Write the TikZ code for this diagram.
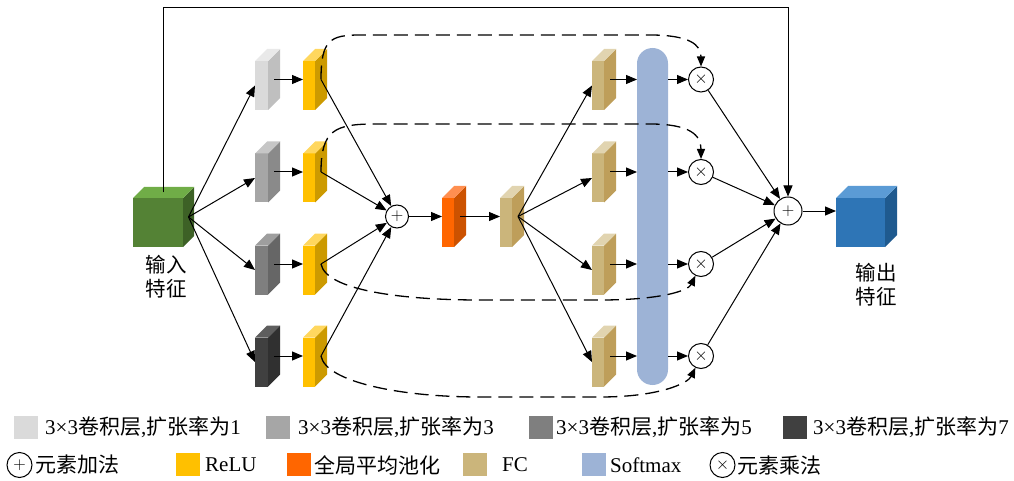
\documentclass[tikz,border=0pt]{standalone}
\usepackage{fontspec}
\setmainfont{Liberation Serif}
\newfontfamily\cjk{Noto Sans CJK SC}
\usetikzlibrary{arrows.meta,calc}

\newcommand{\zh}[1]{{\cjk #1}}

\definecolor{grnF}{HTML}{548235}
\definecolor{grnS}{HTML}{3D6126}
\definecolor{grnT}{HTML}{70AD47}
\definecolor{bluF}{HTML}{2E75B6}
\definecolor{bluS}{HTML}{1F5A8F}
\definecolor{bluT}{HTML}{5B9BD5}
\definecolor{gaF}{HTML}{DADADA}
\definecolor{gaS}{HTML}{BFBFBF}
\definecolor{gaT}{HTML}{E9E9E9}
\definecolor{gbF}{HTML}{A6A6A6}
\definecolor{gbS}{HTML}{8A8A8A}
\definecolor{gbT}{HTML}{C6C6C6}
\definecolor{gcF}{HTML}{7F7F7F}
\definecolor{gcS}{HTML}{666666}
\definecolor{gcT}{HTML}{9E9E9E}
\definecolor{gdF}{HTML}{404040}
\definecolor{gdS}{HTML}{303030}
\definecolor{gdT}{HTML}{5E5E5E}
\definecolor{yelF}{HTML}{FFC000}
\definecolor{yelS}{HTML}{CC9A00}
\definecolor{yelT}{HTML}{FFD75E}
\definecolor{orgF}{HTML}{FF6600}
\definecolor{orgS}{HTML}{CC5200}
\definecolor{orgT}{HTML}{FF8F50}
\definecolor{fcF}{HTML}{CBB57B}
\definecolor{fcS}{HTML}{BE9E5A}
\definecolor{fcT}{HTML}{E1D4B0}
\definecolor{smx}{HTML}{9DB3D6}

\tikzset{
  arr/.style={line width=1pt, -{Triangle[length=11pt,width=9pt]}},
  dsh/.style={line width=1.3pt, dash pattern=on 14pt off 7pt, -{Triangle[length=10pt,width=8pt]}},
  face/.style={draw=none, inner sep=0pt, outer sep=0pt},
  opnode/.style={draw, circle, line width=1pt, fill=white, inner sep=0pt, minimum size=#1, font=\fontsize{17}{17}\selectfont},
  lbl/.style={font=\fontsize{21}{24}\selectfont, inner sep=0pt, anchor=west},
  cjklbl/.style={font=\cjk\fontsize{20.5}{24}\selectfont, align=center, inner sep=0pt},
  swatch/.style={draw=none, inner sep=0pt, minimum width=24pt, minimum height=23pt},
}

% 3D block: name, centre of front face, w, h, depth, front, side, top
\newcommand{\blk}[8]{%
  \node[face, fill=#6, minimum width=#3pt, minimum height=#4pt] (#1) at (#2) {};
  \fill[#7] (#1.north east) -- ++(#5,-#5) -- ++(0,#4) -- (#1.south east) -- cycle;
  \fill[#8] (#1.north west) -- ++(#5,-#5) -- ++(#3,0) -- (#1.north east) -- cycle;
  \coordinate (#1-i) at ($(#1.west)+(0,-#5/2)$);
  \coordinate (#1-o) at ($(#1.east)+(#5/2,-#5/2)$);
  \coordinate (#1-t) at ($(#1.north)+(#5/2,-#5/2)$);
}

\begin{document}
\begin{tikzpicture}[x=1pt,y=-1pt]
  \useasboundingbox (0,0) rectangle (1014,481);

  % input / output
  \blk{in}{158,222.5}{50}{49}{11}{grnF}{grnS}{grnT}
  \blk{out}{860.5,222.5}{49}{49}{12}{bluF}{bluS}{bluT}
  \node[cjklbl] (inlbl) at (166,276.5) {输入\\特征};
  \node[cjklbl] (outlbl) at (876,285) {输出\\特征};

  % dilated convolutions
  \blk{g1}{261.5,85.5}{13}{49}{12}{gaF}{gaS}{gaT}
  \blk{g2}{261.5,178}{13}{49}{12}{gbF}{gbS}{gbT}
  \blk{g3}{261.5,270}{13}{49}{12}{gcF}{gcS}{gcT}
  \blk{g4}{261.5,362}{13}{49}{12}{gdF}{gdS}{gdT}

  % relu
  \blk{y1}{309,85.5}{12}{49}{12}{yelF}{yelS}{yelT}
  \blk{y2}{309,178}{12}{49}{12}{yelF}{yelS}{yelT}
  \blk{y3}{309,270}{12}{49}{12}{yelF}{yelS}{yelT}
  \blk{y4}{309,362}{12}{49}{12}{yelF}{yelS}{yelT}

  % pooling and fc
  \blk{pool}{448,222.5}{12}{49}{12}{orgF}{orgS}{orgT}
  \blk{fc}{506,222.5}{12}{49}{12}{fcF}{fcS}{fcT}
  \blk{f1}{598,85.5}{12}{49}{12}{fcF}{fcS}{fcT}
  \blk{f2}{598,178}{12}{49}{12}{fcF}{fcS}{fcT}
  \blk{f3}{598,270}{12}{49}{12}{fcF}{fcS}{fcT}
  \blk{f4}{598,362}{12}{49}{12}{fcF}{fcS}{fcT}

  \node[face, fill=smx, minimum width=31pt, minimum height=337pt, rounded corners=15.5pt] (sm) at (652.5,216.5) {};

  \node[opnode=23pt] (p1) at (397,216.5) {$+$};
  \node[opnode=28pt] (p2) at (788,211) {$+$};
  \node[opnode=25pt] (x1) at (701,79.5) {$\times$};
  \node[opnode=25pt] (x2) at (701,172) {$\times$};
  \node[opnode=25pt] (x3) at (701,264) {$\times$};
  \node[opnode=25pt] (x4) at (701,356) {$\times$};
  \coordinate (top) at (0,8);

  \draw[arr] (in-t) |- (p2 |- top) -- (p2);

  \draw[arr] (in-o) -- (g1.west);
  \draw[arr] (in-o) -- (g2.west);
  \draw[arr] (in-o) -- (g3.west);
  \draw[arr] (in-o) -- (g4.west);

  \draw[arr] (g1-o) -- (y1-i);
  \draw[arr] (g2-o) -- (y2-i);
  \draw[arr] (g3-o) -- (y3-i);
  \draw[arr] (g4-o) -- (y4-i);

  \draw[arr] (y1-o) -- (p1);
  \draw[arr] (y2-o) -- (p1);
  \draw[arr] (y3-o) -- (p1);
  \draw[arr] (y4-o) -- (p1);

  \draw[arr] (p1) -- (pool-i);
  \draw[arr] (pool-o) -- (fc-i);

  \draw[arr] (fc-o) -- (f1.west);
  \draw[arr] (fc-o) -- (f2.west);
  \draw[arr] (fc-o) -- (f3.west);
  \draw[arr] (fc-o) -- (f4.west);

  \draw[arr] (f1-o) -- (f1-o -| sm.west);
  \draw[arr] (f2-o) -- (f2-o -| sm.west);
  \draw[arr] (f3-o) -- (f3-o -| sm.west);
  \draw[arr] (f4-o) -- (f4-o -| sm.west);

  \draw[arr] (sm.east |- x1) -- (x1);
  \draw[arr] (sm.east |- x2) -- (x2);
  \draw[arr] (sm.east |- x3) -- (x3);
  \draw[arr] (sm.east |- x4) -- (x4);

  \draw[arr] (x1) -- (p2);
  \draw[arr] (x2) -- (p2);
  \draw[arr] (x3) -- (p2);
  \draw[arr] (x4) -- (p2);
  \draw[arr] (p2) -- (p2 -| out.west);

  % skip paths from relu to the products
  \draw[dsh] (y1-o) .. controls (321,40) and (330,35) .. (360,35) -- (650,35) .. controls (690,35) and (701,45) .. (x1);
  \draw[dsh] (y2-o) .. controls (321,130) and (335,124) .. (375,124) -- (650,124) .. controls (690,124) and (701,135) .. (x2);
  \draw[dsh] (y3-o) .. controls (326,290) and (400,300) .. (480,300) -- (600,300) .. controls (660,300) and (688,291) .. (x3);
  \draw[dsh] (y4-o) .. controls (326,382) and (400,397) .. (480,397) -- (600,397) .. controls (660,397) and (688,383) .. (x4);

  % legend
  \node[swatch, fill=gaF] (s1) at (26,427) {};
  \node[lbl] (t1) at (45,427) {3×3\zh{卷积层},\zh{扩张率为}1};
  \node[swatch, fill=gbF] (s2) at (277.5,427) {};
  \node[lbl] (t2) at (298,427) {3×3\zh{卷积层},\zh{扩张率为}3};
  \node[swatch, fill=gcF] (s3) at (541,427) {};
  \node[lbl] (t3) at (556,427) {3×3\zh{卷积层},\zh{扩张率为}5};
  \node[swatch, fill=gdF] (s4) at (795,427) {};
  \node[lbl] (t4) at (813,427) {3×3\zh{卷积层},\zh{扩张率为}7};

  \node[opnode=25pt] (ladd) at (19.5,465) {$+$};
  \node[lbl] (t5) at (35,465) {\zh{元素加法}};
  \node[swatch, fill=yelF] (s5) at (188,464) {};
  \node[lbl] (t6) at (205,465) {ReLU};
  \node[swatch, fill=orgF] (s6) at (299,464) {};
  \node[lbl] (t7) at (314,465) {\zh{全局平均池化}};
  \node[swatch, fill=fcF] (s7) at (475,464) {};
  \node[lbl] (t8) at (502,465) {FC};
  \node[swatch, fill=smx] (s8) at (594,464) {};
  \node[lbl] (t9) at (610,465) {Softmax};
  \node[opnode=25pt] (lmul) at (722.5,465) {$\times$};
  \node[lbl] (t10) at (737,465) {\zh{元素乘法}};

\end{tikzpicture}
\end{document}
